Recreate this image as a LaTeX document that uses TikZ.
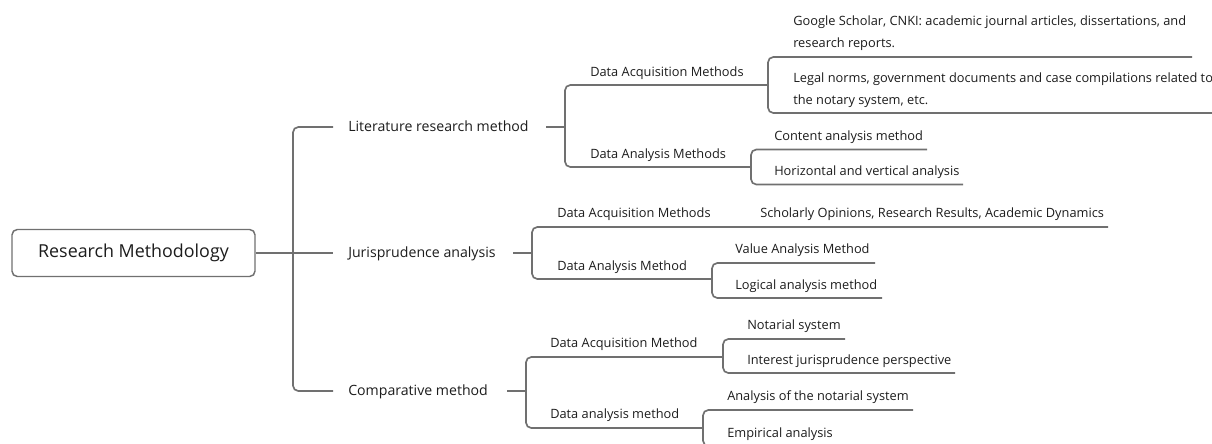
\documentclass[tikz,border=0pt]{standalone}
\usepackage{fontspec}
\setmainfont{Open Sans}
\definecolor{lnc}{RGB}{112,112,112}
\definecolor{txc}{RGB}{28,28,28}
\begin{document}
\begin{tikzpicture}[x=0.75pt,y=-0.75pt,
  conn/.style={draw=lnc,line width=1.25pt,rounded corners=4pt},
  sm/.style={anchor=base west,inner sep=0pt,text=txc,font=\fontsize{9.6}{11.5}\selectfont},
  mid/.style={anchor=base west,inner sep=0pt,text=txc,font=\fontsize{10.6}{12.5}\selectfont},
  rootbox/.style={draw=lnc,line width=1.1pt,rounded corners=4pt,minimum width=182.25pt,minimum height=35.25pt,inner sep=0pt,text=txc,font=\fontsize{13.4}{16}\selectfont}]
\useasboundingbox (0,0) rectangle (1212,443);
\clip (0,0) rectangle (1212,443);
% root
\node[rootbox] (root) at (133.5,253) {Research Methodology};
\coordinate (t1) at (333,127);
\coordinate (t2) at (333,253);
\coordinate (t3) at (333,391);
\draw[conn] (t1) -- ++(-40,0) |- (t3);
\draw[conn] (root.east) -- (t2);
% level 1
\node[mid] (lit) at (348,131.5) {Literature research method};
\node[mid] (jur) at (348,257.5) {Jurisprudence analysis};
\node[mid] (cmp) at (348,395.5) {Comparative method};
% literature
\coordinate (litc) at (546,127);
\coordinate (b1) at (565,127);
\draw[conn] (litc) -- (b1);
\coordinate (daq1e) at (768,85);
\coordinate (dan1e) at (751,167);
\draw[conn] (daq1e) -- (565,85) |- (dan1e);
\node[sm] (daq1) at (590,76) {Data Acquisition Methods};
\node[sm] (dan1) at (590,158) {Data Analysis Methods};
\coordinate (g1e) at (1192,57);
\coordinate (g2e) at (1216,113);
\draw[conn] (g1e) -- (768,57) |- (g2e);
\node[sm] (g1) at (793,25.5) {\vtop{\baselineskip=16.5pt\hbox{Google Scholar, CNKI: academic journal articles, dissertations, and}\hbox{research reports.}}};
\node[sm] (g2) at (793,82) {\vtop{\baselineskip=16.5pt\hbox{Legal norms, government documents and case compilations related to}\hbox{the notary system, etc.}}};
\coordinate (c1e) at (927,149.5);
\coordinate (h1e) at (963,184.5);
\draw[conn] (c1e) -- (751,149.5) |- (h1e);
\node[sm] (c1) at (774,140) {Content analysis method};
\node[sm] (h1) at (774,175.5) {Horizontal and vertical analysis};
% jurisprudence
\coordinate (jurc) at (513,253);
\coordinate (b2) at (532,253);
\draw[conn] (jurc) -- (b2);
\coordinate (s1e) at (1108,227);
\coordinate (dan2e) at (712,279);
\draw[conn] (s1e) -- (532,227) |- (dan2e);
\node[sm] (daq2) at (557,217) {Data Acquisition Methods};
\node[sm] (s1) at (760,217) {Scholarly Opinions, Research Results, Academic Dynamics};
\node[sm] (dan2) at (557,270) {Data Analysis Method};
\coordinate (v1e) at (875,263);
\coordinate (l1e) at (882,298);
\draw[conn] (v1e) -- (712,263) |- (l1e);
\node[sm] (v1) at (735,253.5) {Value Analysis Method};
\node[sm] (l1) at (735,289) {Logical analysis method};
% comparative
\coordinate (cmpc) at (507,391);
\coordinate (b3) at (526,391);
\draw[conn] (cmpc) -- (b3);
\coordinate (daq3e) at (723,357);
\coordinate (dan3e) at (703,428);
\draw[conn] (daq3e) -- (526,357) |- (dan3e);
\node[sm] (daq3) at (550,347.5) {Data Acquisition Method};
\node[sm] (dan3) at (550,418.5) {Data analysis method};
\coordinate (n1e) at (845,339);
\coordinate (i1e) at (955,373);
\draw[conn] (n1e) -- (723,339) |- (i1e);
\node[sm] (n1) at (747,329.5) {Notarial system};
\node[sm] (i1) at (747,364) {Interest jurisprudence perspective};
\coordinate (a1e) at (913,410);
\coordinate (e1e) at (840,446);
\draw[conn] (a1e) -- (703,410) |- (e1e);
\node[sm] (a1) at (727,400.5) {Analysis of the notarial system};
\node[sm] (e1) at (727,437) {Empirical analysis};
\end{tikzpicture}
\end{document}
